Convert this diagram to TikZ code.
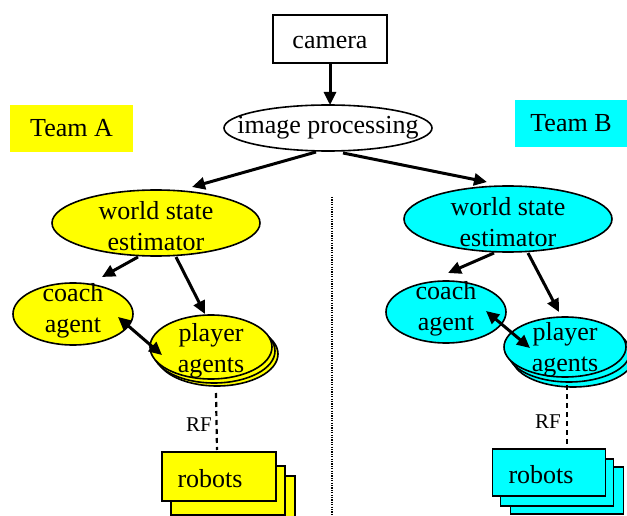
\documentclass[tikz,border=0pt]{standalone}
\usepackage{fontspec}
\setmainfont{Liberation Serif}
\usetikzlibrary{shapes.geometric,arrows.meta,calc}
\definecolor{teamyellow}{RGB}{255,255,0}
\definecolor{teamcyan}{RGB}{0,255,255}
\begin{document}
\begin{tikzpicture}[x=1pt,y=-1pt,
  outline/.style={draw=black,line width=1.6pt,inner sep=0pt,outer sep=0pt},
  ell/.style={outline,ellipse},
  box/.style={outline,rectangle},
  ya/.style={fill=teamyellow},
  cy/.style={fill=teamcyan},
  txt/.style={align=center,font=\fontsize{26}{31}\selectfont,inner sep=0pt},
  rf/.style={font=\fontsize{21}{24}\selectfont,inner sep=0pt},
  arr/.style={line width=3pt,-{Triangle[length=13pt,width=12pt]}},
  darr/.style={line width=3pt,{Triangle[length=13pt,width=12pt]}-{Triangle[length=13pt,width=12pt]}},
  radio/.style={line width=2.2pt,dash pattern=on 5pt off 4pt},
  divider/.style={line width=1.8pt,dash pattern=on 1.2pt off 1.2pt}
]
\useasboundingbox (0,0) rectangle (627,516);
\clip (0,0) rectangle (627,516);

% top
\node[box,minimum width=114pt,minimum height=48pt,label={[txt,yshift=-4pt]center:camera}] (cam) at (330,39) {};
\node[ell,minimum width=208pt,minimum height=46pt,label={[txt]center:image processing}] (ip) at (328,128) {};
\node[txt,fill=teamyellow,minimum width=123pt,minimum height=47pt] (teama) at (71.5,128.5) {Team A};
\node[txt,fill=teamcyan,minimum width=112pt,minimum height=47pt] (teamb) at (571,123.5) {Team B};

% world state estimators
\node[ell,ya,minimum width=208pt,minimum height=66pt,label={[txt,yshift=-3pt]center:world state\\estimator}] (wsea) at (156,223) {};
\node[ell,cy,minimum width=208pt,minimum height=66pt,label={[txt,yshift=-3pt]center:world state\\estimator}] (wseb) at (508,219) {};

% coaches
\node[ell,ya,minimum width=120pt,minimum height=62pt,label={[txt,yshift=3pt]center:coach\\agent}] (ca) at (73,314) {};
\node[ell,cy,minimum width=120pt,minimum height=62pt,label={[txt,yshift=3pt]center:coach\\agent}] (cb) at (446,312) {};

% players A
\node[ell,ya,minimum width=122pt,minimum height=64pt] (pa3) at (217,354) {};
\node[ell,ya,minimum width=122pt,minimum height=64pt] (pa2) at (214,351) {};
\node[ell,ya,minimum width=122pt,minimum height=64pt,label={[txt,yshift=-4pt]center:player\\agents}] (pa) at (211,347) {};
% players B
\node[ell,cy,minimum width=122pt,minimum height=60pt] (pb3) at (573,357) {};
\node[ell,cy,minimum width=122pt,minimum height=60pt] (pb2) at (569,352) {};
\node[ell,cy,minimum width=122pt,minimum height=60pt,label={[txt,yshift=-3pt]center:player\\agents}] (pb) at (565,347) {};

% robots A
\node[box,ya,minimum width=114pt,minimum height=49pt] (ra3) at (238,500.5) {};
\node[box,ya,minimum width=114pt,minimum height=49pt] (ra2) at (228,490.5) {};
\node[box,ya,minimum width=114pt,minimum height=49pt,label={[txt,xshift=-9pt,yshift=-2pt]center:robots}] (ra) at (219,476.5) {};
% robots B
\node[box,cy,minimum width=113pt,minimum height=47pt] (rb3) at (567,490.5) {};
\node[box,cy,minimum width=113pt,minimum height=47pt] (rb2) at (557,482.5) {};
\node[box,cy,minimum width=113pt,minimum height=47pt,label={[txt,xshift=-8pt,yshift=-2pt]center:robots}] (rb) at (549,472.5) {};

% divider
\coordinate (d1) at (332,197);
\coordinate (d2) at (332,516);
\draw[divider] (d1) -- (d2);

% connectors
\draw[arr] (cam.south) -- (cam.south |- ip.north);
\draw[arr] ($(ip.center)+(-12,24)$) -- ($(wsea.center)+(36,-36)$);
\draw[arr] ($(ip.center)+(15,25)$) -- ($(wseb.center)+(-21,-37)$);
\draw[arr] ($(wsea.center)+(-18,34)$) -- ($(ca.center)+(29,-37)$);
\draw[arr] ($(wsea.center)+(20,34)$) -- ($(pa.center)+(-6,-33)$);
\draw[darr] ($(ca.center)+(45,3)$) -- ($(pa.center)+(-49,8)$);
\draw[arr] ($(wseb.center)+(-14,34)$) -- ($(cb.center)+(2,-39)$);
\draw[arr] ($(wseb.center)+(20,34)$) -- ($(pb.center)+(-6,-35)$);
\draw[darr] ($(cb.center)+(40,-1)$) -- ($(pb.center)+(-35,1)$);

% RF links
\draw[radio] ($(pa.center)+(5,46)$) -- ($(ra.north)+(-2,-2)$);
\node[rf] (rfa) at (199,425) {RF};
\draw[radio] ($(pb.center)+(2,38)$) -- ($(rb.north)+(18,-4)$);
\node[rf] (rfb) at (548,422) {RF};
\end{tikzpicture}
\end{document}
